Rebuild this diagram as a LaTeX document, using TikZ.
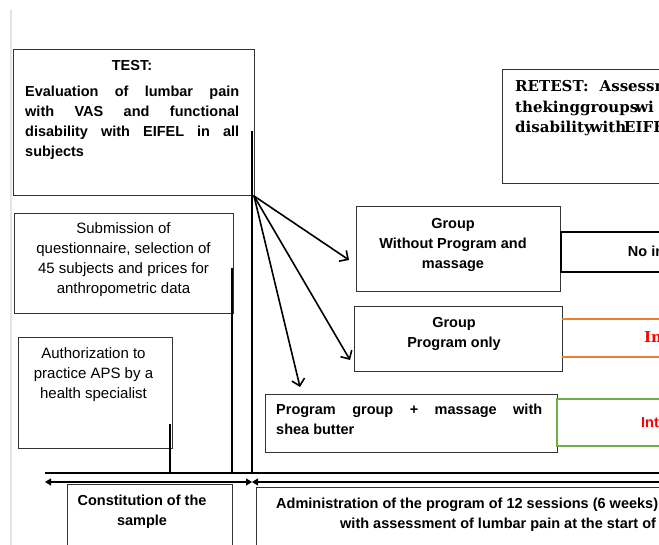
\documentclass[tikz,border=0pt]{standalone}
\usepackage{fontspec}
\setmainfont{Liberation Sans}
\newfontfamily\retfont{DejaVu Serif}
\usetikzlibrary{arrows.meta}
\newcommand\bfs{\fontsize{14.5}{20}\selectfont\bfseries}
\newcommand\rfs{\fontsize{15}{20}\selectfont}
\newcommand\sfs{\retfont\bfseries\fontsize{15}{20.5}\selectfont}
\definecolor{orangeline}{HTML}{ED7D31}
\definecolor{greenline}{HTML}{70AD47}
\definecolor{boxgray}{HTML}{333333}
\definecolor{edgegray}{HTML}{E4E4E4}
\begin{document}
\begin{tikzpicture}[x=1pt,y=-1pt,
  box/.style={draw=boxgray, line width=1pt, inner sep=0pt, outer sep=0pt, anchor=north west},
  heavy/.style={line width=1.8pt},
  flow/.style={line width=1.6pt, -{Straight Barb[length=6.5pt,width=13pt]}},
  span/.style={line width=1.1pt, {Triangle[length=6pt,width=7pt]}-{Triangle[length=6pt,width=7pt]}},
  txt/.style={inner sep=0pt, anchor=base},
  txtw/.style={inner sep=0pt, anchor=base west},
]
\useasboundingbox (0,0) rectangle (659,545);
\clip (0,0) rectangle (659,545);

% page edge
\coordinate (edgeTop) at (11,10);
\coordinate (edgeBot) at (11,545);
\draw[edgegray, line width=2pt] (edgeTop) -- (edgeBot);

% boxes
\node[box, minimum width=241pt, minimum height=146pt] (test) at (13,50) {};
\node[box, minimum width=219pt, minimum height=100pt] (sub) at (14,214) {};
\node[box, minimum width=154pt, minimum height=110pt] (auth) at (18,338) {};
\node[box, minimum width=165pt, minimum height=80pt] (const) at (67,484) {};
\node[box, minimum width=444pt, minimum height=80pt] (admin) at (256,487) {};
\node[box, minimum width=204pt, minimum height=85pt] (g1) at (356,207) {};
\node[box, minimum width=208pt, minimum height=65pt] (g2) at (354,307) {};
\node[box, minimum width=292pt, minimum height=57pt] (g3) at (265,395) {};
\node[box, minimum width=198pt, minimum height=114pt] (retest) at (502,70) {};
\node[box, draw=black, line width=2pt, minimum width=139pt, minimum height=40pt] (noin) at (561,232) {};
\node[box, draw=greenline, line width=1.3pt, minimum width=143pt, minimum height=47pt] (intbox) at (557,399) {};

% orange band
\coordinate (o1a) at (562,319); \coordinate (o1b) at (700,319);
\coordinate (o2a) at (562,357); \coordinate (o2b) at (700,357);
\draw[orangeline, line width=1.3pt] (o1a) -- (o1b);
\draw[orangeline, line width=1.3pt] (o2a) -- (o2b);

% texts
\node[txt] (testT) at (132,71) {\bfs TEST:};
\node[txtw] (testB) at (25,97) {\parbox[t]{214pt}{\bfs
  \makebox[214pt][s]{Evaluation of lumbar pain}\\
  \makebox[214pt][s]{with VAS and functional}\\
  \makebox[214pt][s]{disability with EIFEL in all}\\
  subjects}};
\node[txt] (subT) at (123.5,234) {\parbox[t]{215pt}{\centering\rfs Submission of\\questionnaire, selection of\\45 subjects and prices for\\anthropometric data}};
\node[txt] (authT) at (93.5,359) {\parbox[t]{150pt}{\centering\rfs Authorization to\\practice APS by a\\health specialist}};
\node[txt] (constT) at (142,505) {\parbox[t]{160pt}{\centering\bfs Constitution of the\\sample}};
\node[txtw] (adminT) at (276,508) {\parbox[t]{420pt}{\bfs Administration of the program of 12 sessions (6 weeks)\\\hspace*{64pt}with assessment of lumbar pain at the start of}};
\node[txt] (g1T) at (453,229) {\parbox[t]{200pt}{\centering\bfs Group\\Without Program and\\massage}};
\node[txt] (g2T) at (454,328) {\parbox[t]{200pt}{\centering\bfs Group\\Program only}};
\node[txtw] (g3T) at (276,414) {\parbox[t]{266pt}{\bfs
  \makebox[266pt][s]{Program group + massage with}\\
  shea butter}};
\node[txtw] (retestT) at (515,92) {\parbox[t]{300pt}{\sfs RETEST:\hspace{11pt}Assessm\\thekinggroups\kern-3pt wi\\disability\kern-3pt with\kern-2pt EIFE}};
\node[txtw] (noinT) at (627.7,257) {\bfs No in};
\node[txtw, text=red] (inT) at (644,343) {\sfs In};
\node[txtw, text=red] (intT) at (641,428) {\bfs Int};

% connectors from TEST
\coordinate (tip1) at (349,260);
\coordinate (tip2) at (350,360);
\coordinate (tip3) at (300,387);
\draw[flow] (test.south east) -- (tip1);
\draw[flow] (test.south east) -- (tip2);
\draw[flow] (test.south east) -- (tip3);

% vertical lines
\coordinate (v1t) at (252,131); \coordinate (v1b) at (252,473);
\coordinate (v2t) at (232,268); \coordinate (v2b) at (232,473);
\coordinate (v3t) at (170,424); \coordinate (v3b) at (170,473);
\draw[heavy] (v1t) -- (v1b);
\draw[heavy] (v2t) -- (v2b);
\draw[heavy] (v3t) -- (v3b);

% time line
\coordinate (hL) at (45,473); \coordinate (hR) at (700,473);
\draw[heavy] (hL) -- (hR);
\coordinate (aL) at (45,482); \coordinate (aM) at (252,482); \coordinate (aR) at (700,482);
\draw[span] (aL) -- (aM);
\draw[span] (aM) -- (aR);
\end{tikzpicture}
\end{document}
